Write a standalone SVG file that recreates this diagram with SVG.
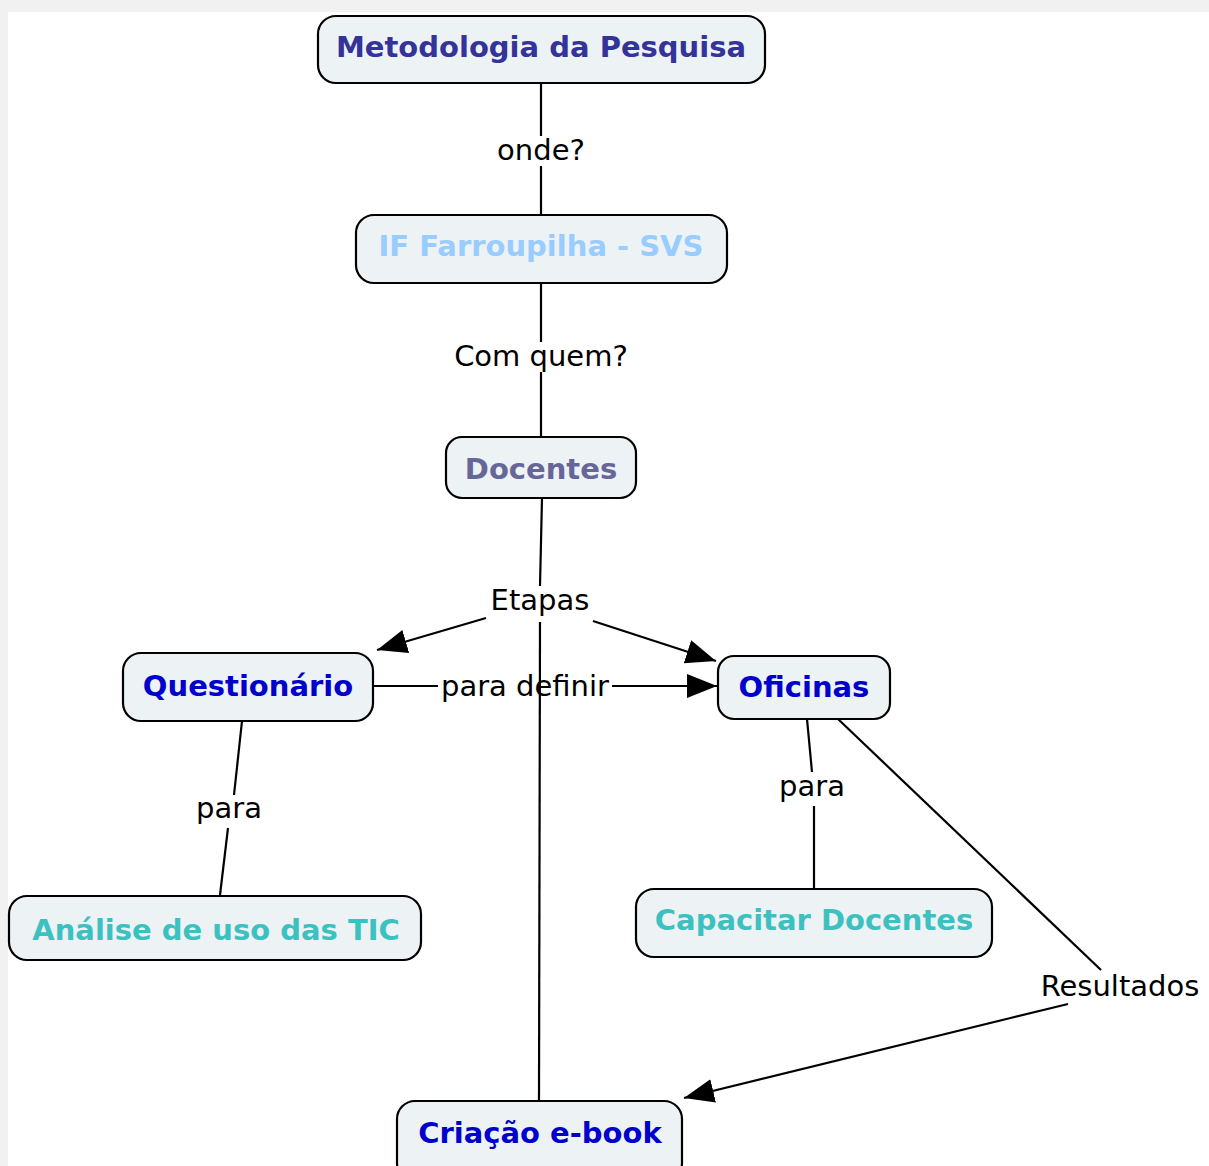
<svg xmlns="http://www.w3.org/2000/svg" width="1209" height="1166" viewBox="0 0 1209 1166">
<style>
.box{fill:#edf2f5;stroke:#000;stroke-width:2.2}
.nt{font-family:"DejaVu Sans",Verdana,sans-serif;font-weight:bold;font-size:29px;text-anchor:middle}
.lt{font-family:"DejaVu Sans",Verdana,sans-serif;font-size:29px;text-anchor:middle;fill:#000}
.ln{stroke:#000;stroke-width:2.2;fill:none}
</style>
<defs>
<marker id="ah" markerUnits="userSpaceOnUse" markerWidth="32" markerHeight="26" refX="30" refY="12" orient="auto">
<path d="M0,0 L30,12 L0,24 Z" fill="#000"/>
</marker>
</defs>
<rect x="0" y="0" width="1209" height="1166" fill="#f1f1f1"/>
<rect x="8" y="12" width="1201" height="1154" fill="#fff"/>
<g id="connectors">
<line class="ln" x1="541" y1="83" x2="541" y2="136"/>
<line class="ln" x1="541" y1="166" x2="541" y2="215"/>
<line class="ln" x1="541" y1="283" x2="541" y2="342"/>
<line class="ln" x1="541" y1="372" x2="541" y2="437"/>
<line class="ln" x1="542" y1="498" x2="540" y2="586"/>
<line class="ln" x1="486" y1="618" x2="377" y2="650" marker-end="url(#ah)"/>
<line class="ln" x1="593" y1="621" x2="716" y2="661" marker-end="url(#ah)"/>
<line class="ln" x1="540" y1="622" x2="539" y2="1100"/>
<line class="ln" x1="373" y1="686" x2="438" y2="686"/>
<line class="ln" x1="612" y1="686" x2="717" y2="686" marker-end="url(#ah)"/>
<line class="ln" x1="242" y1="721" x2="234" y2="795"/>
<line class="ln" x1="228" y1="828" x2="220" y2="895"/>
<line class="ln" x1="807" y1="719" x2="812" y2="772"/>
<line class="ln" x1="814" y1="806" x2="814" y2="888"/>
<line class="ln" x1="838" y1="719" x2="1101" y2="970"/>
<line class="ln" x1="1068" y1="1004" x2="684" y2="1098" marker-end="url(#ah)"/>
<text class="lt" x="541" y="160">onde?</text>
<text class="lt" x="541" y="366">Com quem?</text>
<text class="lt" x="540" y="610">Etapas</text>
<text class="lt" x="525" y="696">para definir</text>
<text class="lt" x="229" y="818">para</text>
<text class="lt" x="812" y="796">para</text>
<text class="lt" x="1120" y="996">Resultados</text>
</g>
<g id="n-metodologia">
<rect class="box" x="318" y="16" width="447" height="67" rx="18"/>
<text class="nt" x="541" y="57" fill="#333399">Metodologia da Pesquisa</text>
</g>
<g id="n-if">
<rect class="box" x="356" y="215" width="371" height="68" rx="18"/>
<text class="nt" x="541" y="256" fill="#99ccff">IF Farroupilha - SVS</text>
</g>
<g id="n-docentes">
<rect class="box" x="446" y="437" width="190" height="61" rx="16"/>
<text class="nt" x="541" y="479" fill="#666699">Docentes</text>
</g>
<g id="n-questionario">
<rect class="box" x="123" y="653" width="250" height="68" rx="18"/>
<text class="nt" x="248" y="696" fill="#0000cc">Questionário</text>
</g>
<g id="n-oficinas">
<rect class="box" x="718" y="656" width="172" height="63" rx="16"/>
<text class="nt" x="804" y="697" fill="#0000cc">Oficinas</text>
</g>
<g id="n-analise">
<rect class="box" x="9" y="896" width="412" height="64" rx="18"/>
<text class="nt" x="216" y="940" fill="#3cc1c1">Análise de uso das TIC</text>
</g>
<g id="n-capacitar">
<rect class="box" x="636" y="889" width="356" height="68" rx="18"/>
<text class="nt" x="814" y="930" fill="#3cc1c1">Capacitar Docentes</text>
</g>
<g id="n-criacao">
<rect class="box" x="397" y="1101" width="285" height="80" rx="18"/>
<text class="nt" x="540" y="1143" fill="#0000cc">Criação e-book</text>
</g>
</svg>
